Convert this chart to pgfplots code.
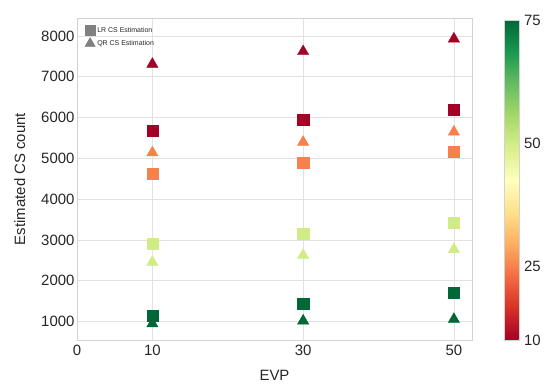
\documentclass[border=0pt]{standalone}
\usepackage{fontspec}
\setmainfont{Liberation Sans}
\usepackage{pgfplots}
\pgfplotsset{compat=1.18}
\usepackage{pgfplotstable}
\definecolor{txt}{RGB}{38,38,38}
\definecolor{gridc}{RGB}{226,226,226}
\definecolor{framec}{RGB}{210,210,210}
\pgfplotstableread{
x y c
10 5670 10
10 4630 25
10 2900 50
10 1150 75
30 5940 10
30 4900 25
30 3150 50
30 1430 75
50 6200 10
50 5160 25
50 3430 50
50 1700 75
}\lrdata
\pgfplotstableread{
x y c
10 7310 10
10 5140 25
10 2460 50
10 950 75
30 7620 10
30 5400 25
30 2630 50
30 1020 75
50 7930 10
50 5650 25
50 2770 50
50 1060 75
}\qrdata
\begin{document}
\begin{tikzpicture}[font=\fontsize{15}{17}\selectfont]
\begin{axis}[
  name=ax,
  scale only axis,
  width=395bp, height=322bp,
  xmin=0, xmax=52.4,
  ymin=550, ymax=8440,
  xtick={0,10,30,50},
  ytick={1000,2000,3000,4000,5000,6000,7000,8000},
  /pgf/number format/assume math mode=true,
  /pgf/number format/1000 sep={},
  tick label style={text=txt, font=\fontsize{15}{17}\selectfont},
  xticklabel style={yshift=-2bp},
  yticklabel style={xshift=1bp},
  major tick length=0pt,
  grid=major,
  major grid style={gridc, line width=0.8pt},
  axis line style={framec, line width=0.8pt},
  xlabel={EVP}, ylabel={Estimated CS count},
  label style={text=txt, font=\fontsize{15}{17}\selectfont},
  xlabel style={yshift=-7bp},
  ylabel style={yshift=9bp},
  colormap={RdYlGn}{rgb255=(165,0,38) rgb255=(215,48,39) rgb255=(244,109,67) rgb255=(253,174,97) rgb255=(254,224,139) rgb255=(255,255,191) rgb255=(217,239,139) rgb255=(166,217,106) rgb255=(102,189,99) rgb255=(26,152,80) rgb255=(0,104,55)},
  point meta min=10, point meta max=75,
  colorbar,
  colorbar style={
    width=15bp,
    at={(parent axis.north east)}, anchor=north west, xshift=24bp, yshift=-2bp,
    height=320bp,
    ytick={10,25,50,75},
    major tick length=0pt,
    axis line style={framec, line width=0.5pt},
    yticklabel style={text=txt, font=\fontsize{15}{17}\selectfont, xshift=1bp},
    /pgf/number format/assume math mode=true,
  },
  legend style={at={(0.012,0.985)}, anchor=north west, draw=none, fill=none,
    font=\fontsize{7}{8}\selectfont, text=txt, row sep=2pt,
    /tikz/every even column/.append style={column sep=4pt}},
  legend cell align=left,
]
\addlegendimage{only marks, mark=square*, mark size=4.8bp, gray}
\addlegendentry{LR CS Estimation}
\addlegendimage{only marks, mark=triangle*, mark size=6bp, gray}
\addlegendentry{QR CS Estimation}
\addplot[scatter, only marks, mark=square*, mark size=5.6bp, scatter/use mapped color={draw=mapped color, fill=mapped color}, point meta=explicit, forget plot]
  table[x=x, y=y, meta=c] {\lrdata};
\addplot[scatter, only marks, mark=triangle*, mark size=6.5bp, scatter/use mapped color={draw=mapped color, fill=mapped color}, point meta=explicit, forget plot]
  table[x=x, y=y, meta=c] {\qrdata};
\end{axis}
\path ([xshift=-77bp,yshift=-48bp]ax.south west) rectangle ++(550bp,388bp);
\end{tikzpicture}
\end{document}
